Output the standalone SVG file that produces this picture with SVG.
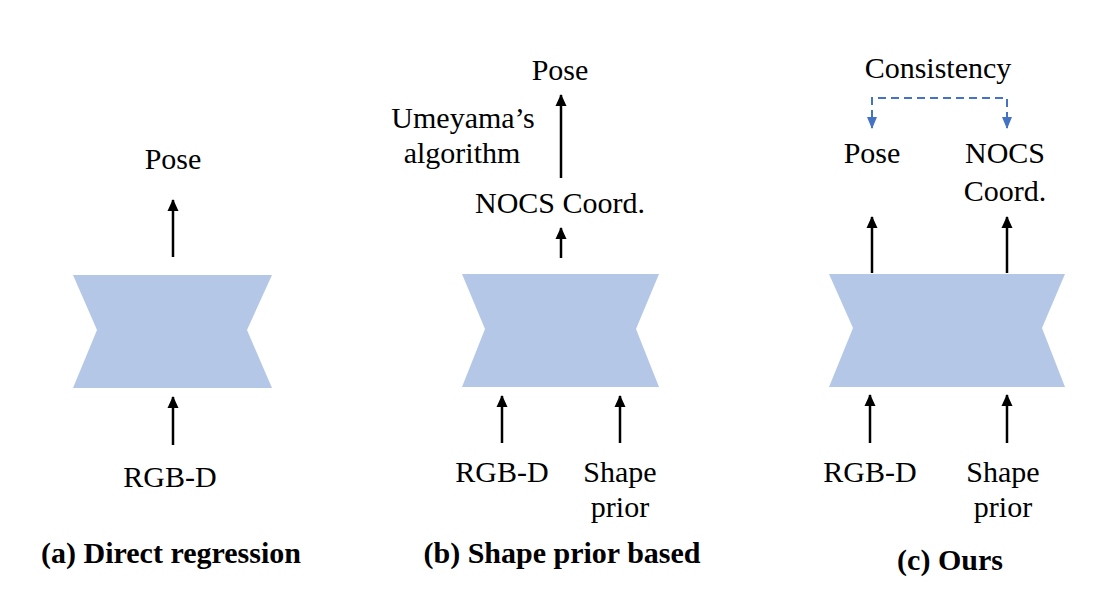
<svg xmlns="http://www.w3.org/2000/svg" width="1093" height="609" viewBox="0 0 1093 609">
<defs>
<marker id="ah" markerUnits="userSpaceOnUse" markerWidth="12" markerHeight="12" viewBox="0 0 12 12" refX="11" refY="6" orient="auto">
<path d="M0,0.5 L12,6 L0,11.5 Z" fill="#000"/>
</marker>
<marker id="ahb" markerUnits="userSpaceOnUse" markerWidth="12" markerHeight="12" viewBox="0 0 12 12" refX="11" refY="6" orient="auto">
<path d="M0,1 L12,6 L0,11 Z" fill="#4472C4"/>
</marker>
<style>
.net{fill:#B4C7E7}
.a{stroke:#000;stroke-width:2.5;fill:none;marker-end:url(#ah)}
.d{stroke:#4472C4;stroke-width:2;fill:none;stroke-dasharray:8 5}
</style>
</defs>
<rect width="1093" height="609" fill="#fff"/>

<g id="netA"><path class="net" d="M73,275 L272,275 L247,330 L272,388 L73,388 L97,330 Z"/></g>
<g id="netB"><path class="net" d="M462,274 L659,274 L636,329 L659,387 L462,387 L485,329 Z"/></g>
<g id="netC"><path class="net" d="M829,274 L1065,274 L1042,328 L1065,387 L829,387 L853,328 Z"/></g>

<g font-size="30" fill="#000" text-anchor="middle">
<g id="labelsA">
<text font-family="Liberation Serif" x="173" y="169">Pose</text>
<text font-family="Liberation Serif" x="170" y="487">RGB-D</text>
</g>
<g id="labelsB">
<text font-family="Liberation Serif" x="560" y="80">Pose</text>
<text font-family="Liberation Serif" x="463" y="128">Umeyama’s</text>
<text font-family="Liberation Serif" x="462" y="163">algorithm</text>
<text font-family="Liberation Serif" x="560" y="213">NOCS Coord.</text>
<text font-family="Liberation Serif" x="502" y="482">RGB-D</text>
<text font-family="Liberation Serif" x="620" y="482">Shape</text>
<text font-family="Liberation Serif" x="620" y="517">prior</text>
</g>
<g id="labelsC">
<text font-family="Liberation Serif" x="938" y="78">Consistency</text>
<text font-family="Liberation Serif" x="872" y="163">Pose</text>
<text font-family="Liberation Serif" x="1005" y="163">NOCS</text>
<text font-family="Liberation Serif" x="1005" y="201">Coord.</text>
<text font-family="Liberation Serif" x="870" y="482">RGB-D</text>
<text font-family="Liberation Serif" x="1003" y="482">Shape</text>
<text font-family="Liberation Serif" x="1003" y="517">prior</text>
</g>
<g id="captions" font-weight="bold">
<text font-family="Liberation Serif" x="171" y="563">(a) Direct regression</text>
<text font-family="Liberation Serif" x="562" y="563">(b) Shape prior based</text>
<text font-family="Liberation Serif" x="950" y="570">(c) Ours</text>
</g>
</g>

<g id="connectors">
<line class="a" x1="173" y1="257" x2="173" y2="200"/>
<line class="a" x1="173" y1="445" x2="173" y2="397"/>
<line class="a" x1="561" y1="178" x2="561" y2="95"/>
<line class="a" x1="561" y1="258" x2="561" y2="228"/>
<line class="a" x1="502" y1="443" x2="502" y2="396"/>
<line class="a" x1="620" y1="443" x2="620" y2="396"/>
<line class="a" x1="872" y1="273" x2="872" y2="217"/>
<line class="a" x1="1007" y1="273" x2="1007" y2="217"/>
<line class="a" x1="870" y1="443" x2="870" y2="395"/>
<line class="a" x1="1007" y1="443" x2="1007" y2="395"/>
<path class="d" d="M872,118 L872,98 L1007,98 L1007,118"/>
<line x1="872" y1="118" x2="872" y2="128" stroke="#4472C4" stroke-width="2" marker-end="url(#ahb)"/>
<line x1="1007" y1="118" x2="1007" y2="128" stroke="#4472C4" stroke-width="2" marker-end="url(#ahb)"/>
</g>
</svg>
